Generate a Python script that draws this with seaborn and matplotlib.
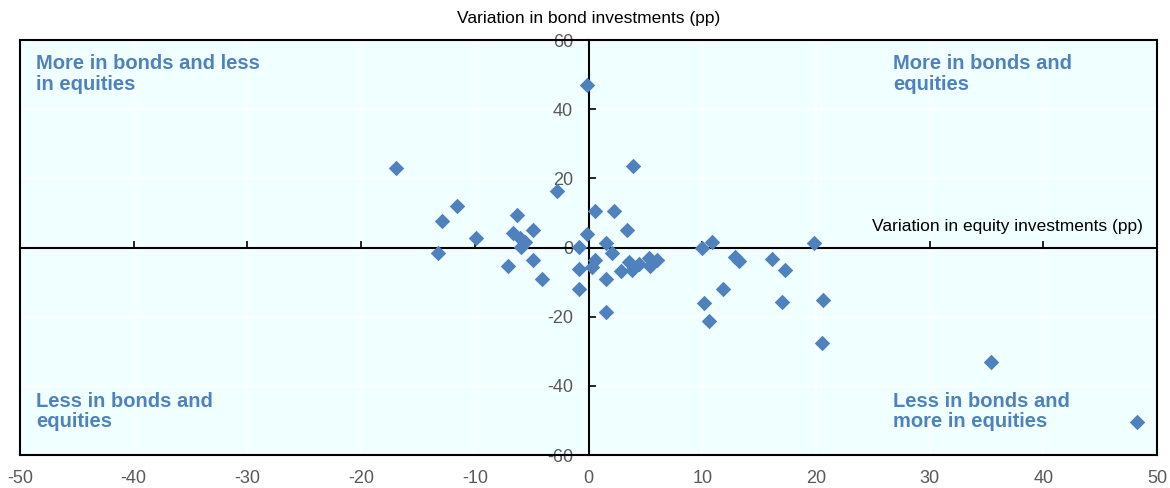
import matplotlib
matplotlib.use('Agg')
import matplotlib.pyplot as plt
import pandas as pd
import seaborn as sns

# values (pp)
equity = [-0.1, -16.9, 3.9, -2.8, -11.6, -12.9, -9.9, -13.2, -6.3, -4.9,
          -6.6, -6.0, -5.6, -5.9, -7.1, -4.9, -4.1, -0.8, -0.1, 0.6,
          2.2, 3.4, 1.5, 2.1, 0.6, 0.3, -0.8, -0.8, 1.5, 1.5,
          3.6, 2.9, 3.8, 4.4, 5.3, 5.4, 6.0, 10.0, 10.9, 12.9,
          13.2, 16.1, 17.3, 19.8, 11.8, 10.2, 10.6, 17.0, 20.6, 20.5,
          35.4, 48.2]
bonds = [47.0, 22.9, 23.6, 16.4, 12.1, 7.7, 2.8, -1.6, 9.4, 5.1,
         4.1, 2.7, 1.7, 0.2, -5.3, -3.6, -9.2, 0.1, 3.9, 10.5,
         10.5, 5.1, 1.2, -1.7, -3.6, -5.6, -6.1, -11.9, -9.2, -18.6,
         -4.1, -6.7, -6.4, -4.9, -3.1, -5.3, -3.6, 0.0, 1.7, -2.8,
         -3.8, -3.2, -6.5, 1.2, -11.9, -16.1, -21.2, -15.7, -15.2, -27.7,
         -33.2, -50.5]

x_ticks = list(range(-50, 51, 10))
y_ticks = list(range(-60, 61, 20))

quadrants = {
    'top_left': 'More in bonds and less\nin equities',
    'top_right': 'More in bonds and\nequities',
    'bottom_left': 'Less in bonds and\nequities',
    'bottom_right': 'Less in bonds and\nmore in equities',
}

blue = '#4F81BD'
grey = '#595959'
narrow = ['Liberation Sans Narrow', 'Liberation Sans']

sns.set_style('white')
plt.rcParams['font.family'] = ['Liberation Sans', 'DejaVu Sans']
plt.rcParams['axes.unicode_minus'] = False

df = pd.DataFrame({'equity': equity, 'bonds': bonds})

fig = plt.figure(figsize=(11.7, 4.88), dpi=100)
ax = fig.add_axes([0.0171, 0.0676, 0.9718, 0.8504])
ax.set_facecolor('#F0FFFF')
ax.set_xlim(-50, 50)
ax.set_ylim(-60, 60)
ax.set_xticks(x_ticks, labels=[str(t) for t in x_ticks], fontfamily=narrow,
              fontsize=13, color=grey)
ax.set_yticks(y_ticks)
ax.grid(True, color='white', lw=1.2)
ax.set_axisbelow(True)
ax.tick_params(axis='x', length=0, pad=11)
ax.tick_params(axis='y', left=False, labelleft=False)
for sp in ax.spines.values():
    sp.set_visible(True)
    sp.set_color('black')
    sp.set_linewidth(1.5)

# zero lines as secondary axes through the middle
sec_y = ax.secondary_yaxis(0.5)
sec_y.set_alignment('left')
sec_y.set_yticks(y_ticks, labels=[str(t) for t in y_ticks], fontfamily=narrow,
                 fontsize=13, color=grey)
sec_y.tick_params(direction='in', length=5, width=1.2, pad=11, color='black')
for sp in sec_y.spines.values():
    sp.set_color('black')
    sp.set_linewidth(1.5)
sec_y.set_zorder(2)

sec_x = ax.secondary_xaxis(0.5)
sec_x.set_xticks(x_ticks, labels=[])
sec_x.tick_params(direction='out', length=5, width=1.2, labeltop=False, color='black')
for sp in sec_x.spines.values():
    sp.set_color('black')
    sp.set_linewidth(1.5)
sec_x.set_zorder(2)

sns.scatterplot(data=df, x='equity', y='bonds', marker='D', s=62,
                color=blue, linewidth=0, ax=ax, zorder=3)
ax.set_xlabel('')
ax.set_ylabel('')

ax.text(0.5, 1.053, 'Variation in bond investments (pp)', transform=ax.transAxes,
        ha='center', va='center', fontsize=12.5, color='black')
ax.text(0.988, 0.55, 'Variation in equity investments (pp)', transform=ax.transAxes,
        ha='right', va='center', fontsize=12.5, color='black')

qkw = dict(transform=ax.transAxes, fontsize=14.5, fontweight='bold', color=blue,
           va='top', ha='left', linespacing=1.1)
ax.text(0.014, 0.966, quadrants['top_left'], **qkw)
ax.text(0.768, 0.966, quadrants['top_right'], **qkw)
ax.text(0.014, 0.152, quadrants['bottom_left'], **qkw)
ax.text(0.768, 0.152, quadrants['bottom_right'], **qkw)

fig.savefig('out.png', dpi=100)
